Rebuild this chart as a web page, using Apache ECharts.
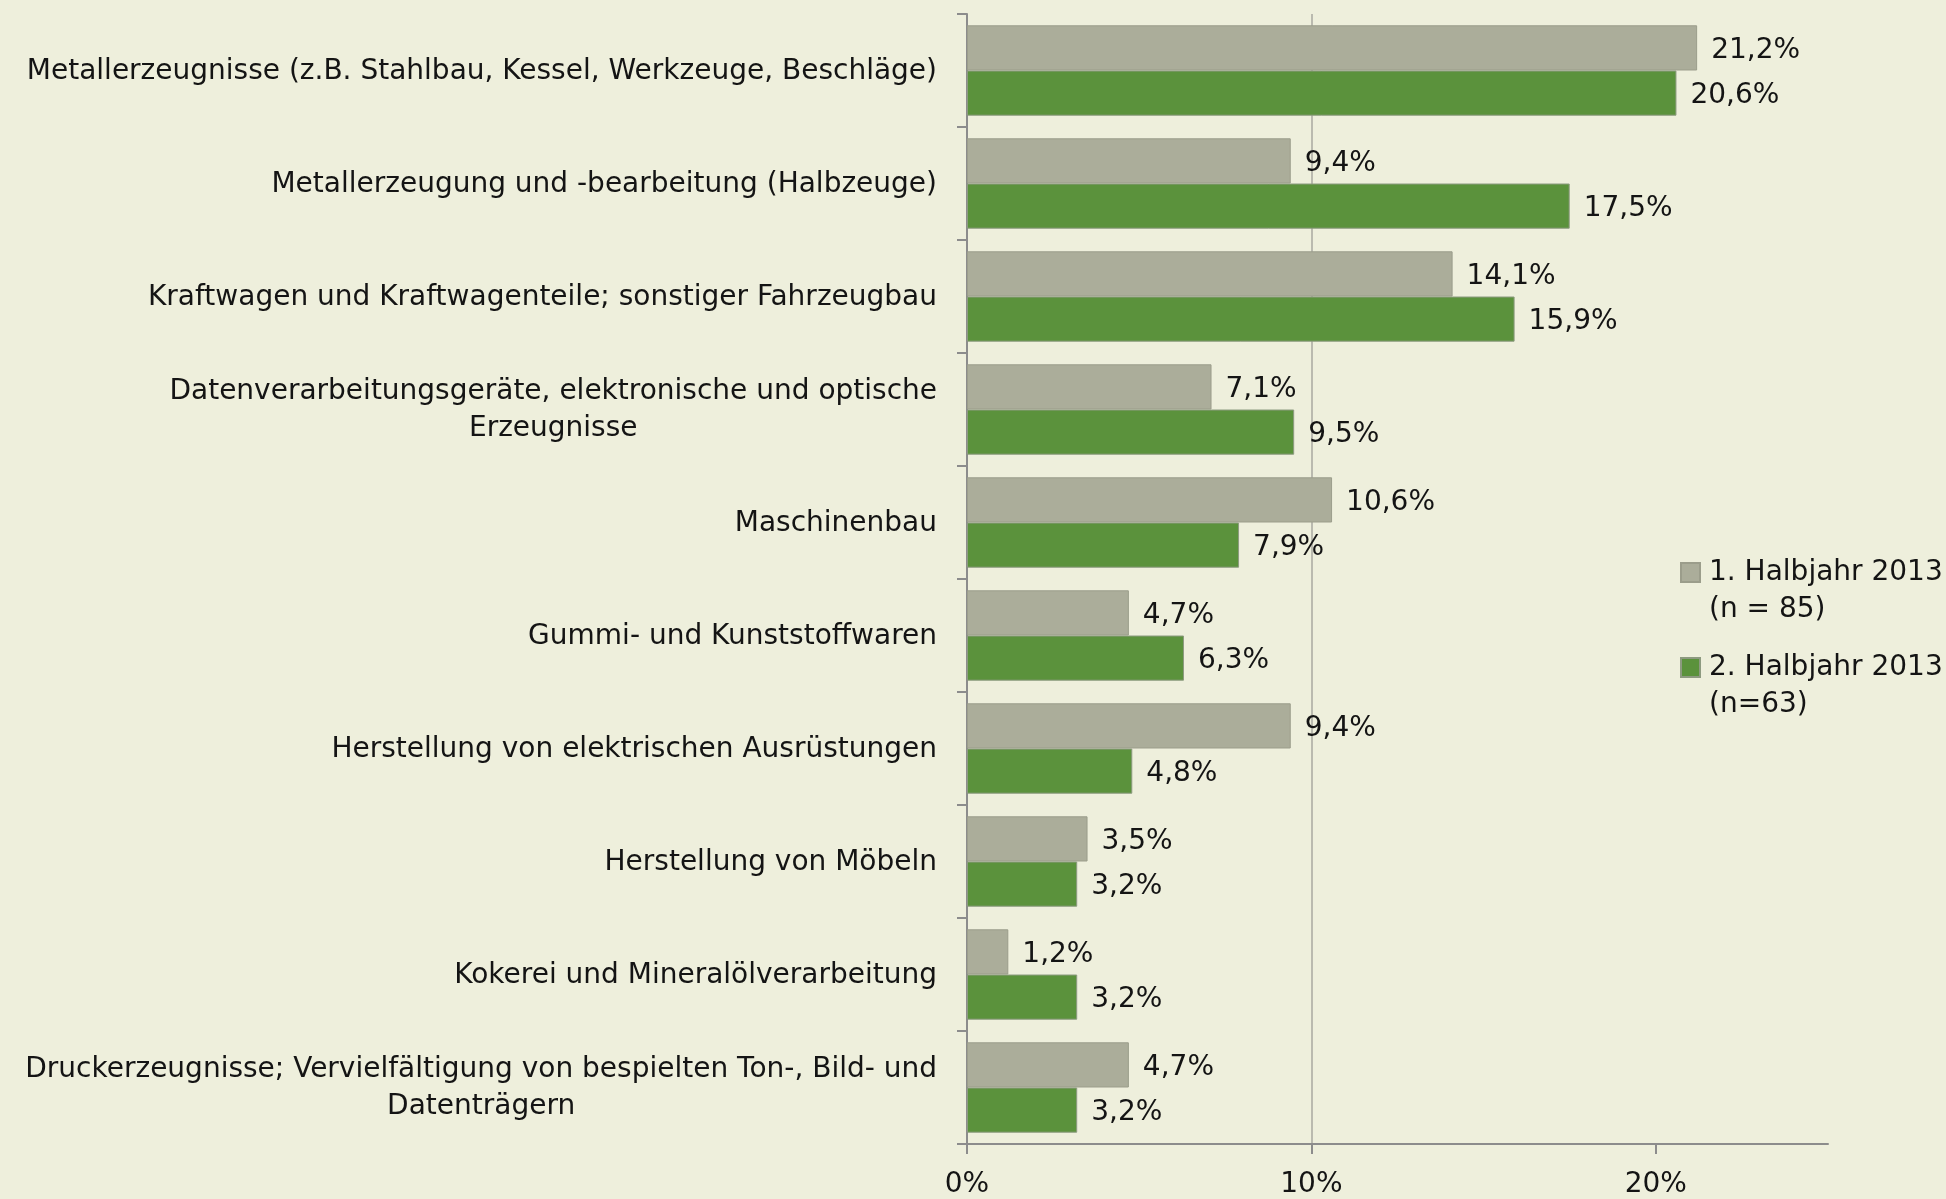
<!DOCTYPE html>
<html>
<head>
<meta charset="utf-8">
<script src="https://cdn.jsdelivr.net/npm/echarts@6/dist/echarts.min.js"></script>
<style>
  html, body { margin: 0; padding: 0; background: #eeefdc; }
  #chart { width: 1946px; height: 1199px; }
</style>
</head>
<body>
<div id="chart"></div>
<script>
// Branchen (von oben nach unten)
var categories = [
  "Metallerzeugnisse (z.B. Stahlbau, Kessel, Werkzeuge, Beschläge)",
  "Metallerzeugung und -bearbeitung (Halbzeuge)",
  "Kraftwagen und Kraftwagenteile; sonstiger Fahrzeugbau",
  "Datenverarbeitungsgeräte, elektronische und optische\nErzeugnisse",
  "Maschinenbau",
  "Gummi- und Kunststoffwaren",
  "Herstellung von elektrischen Ausrüstungen",
  "Herstellung von Möbeln",
  "Kokerei und Mineralölverarbeitung",
  "Druckerzeugnisse; Vervielfältigung von bespielten Ton-, Bild- und\nDatenträgern"
];
var seriesNames = ["1. Halbjahr 2013\n(n = 85)", "2. Halbjahr 2013\n(n=63)"];
var halbjahr1 = [21.2, 9.4, 14.1, 7.1, 10.6, 4.7, 9.4, 3.5, 1.2, 4.7];
var halbjahr2 = [20.6, 17.5, 15.9, 9.5, 7.9, 6.3, 4.8, 3.2, 3.2, 3.2];
var xTicks = [0, 10, 20];

var FONT = "'DejaVu Sans', sans-serif";
var TXT = "#141414";
var AXIS = "#8c8c8c";

function pct(v) {
  return v.toFixed(1).replace(".", ",") + "%";
}

var chart = echarts.init(document.getElementById("chart"));

var barLabel = {
  show: true,
  position: "right",
  distance: 14,
  offset: [0, 3],
  fontFamily: FONT,
  fontSize: 28,
  color: TXT,
  formatter: function (p) { return pct(p.value); }
};

var option = {
  backgroundColor: "#eeefdc",
  animation: false,
  grid: { left: 967, right: 118, top: 14, bottom: 55 },
  legend: {
    orient: "vertical",
    left: 1680,
    top: 517,
    padding: 0,
    itemWidth: 19,
    itemHeight: 19,
    itemGap: -16,
    icon: "rect",
    data: seriesNames,
    // leere erste Zeile, damit das Symbol auf Höhe der ersten Textzeile sitzt
    formatter: function (name) {
      return "{n| }\n" + name.split("\n").map(function (l) { return "{n|" + l + "}"; }).join("\n");
    },
    textStyle: {
      fontFamily: FONT,
      fontSize: 28,
      lineHeight: 37,
      color: TXT,
      rich: {
        n: { fontFamily: FONT, fontSize: 28, lineHeight: 37, color: TXT, padding: [0, 0, 0, 4] }
      }
    }
  },
  xAxis: {
    type: "value",
    min: 0,
    max: 25,
    interval: 10,
    axisLine: { show: true, lineStyle: { color: AXIS, width: 2 } },
    axisTick: { show: true, length: 10, customValues: xTicks, lineStyle: { color: AXIS, width: 2 } },
    axisLabel: {
      customValues: xTicks,
      margin: 27,
      fontFamily: FONT,
      fontSize: 28,
      color: TXT,
      formatter: function (v) { return v + "%"; }
    },
    splitLine: { show: true, showMinLine: false, showMaxLine: false, lineStyle: { color: "#a8a8a0", width: 1.5 } }
  },
  yAxis: {
    type: "category",
    inverse: true,
    data: categories,
    axisLine: { show: true, lineStyle: { color: AXIS, width: 2 } },
    axisTick: { show: true, length: 10, lineStyle: { color: AXIS, width: 2 } },
    axisLabel: {
      margin: 30,
      fontFamily: FONT,
      fontSize: 28,
      color: TXT,
      formatter: function (v) {
        return v.split("\n").map(function (l) { return "{c|" + l + "}"; }).join("\n");
      },
      rich: {
        c: { align: "center", fontFamily: FONT, fontSize: 28, lineHeight: 37, color: TXT, padding: [2, 0, 0, 0] }
      }
    }
  },
  series: [
    {
      name: seriesNames[0],
      type: "bar",
      data: halbjahr1,
      barGap: "0%",
      barCategoryGap: "20%",
      itemStyle: { color: "#abad9a", borderColor: "#9b9d8b", borderWidth: 1 },
      label: barLabel
    },
    {
      name: seriesNames[1],
      type: "bar",
      data: halbjahr2,
      barGap: "0%",
      barCategoryGap: "20%",
      itemStyle: { color: "#5b923c", borderColor: "#8d9a80", borderWidth: 1 },
      label: barLabel
    }
  ]
};

chart.setOption(option);
</script>
</body>
</html>
